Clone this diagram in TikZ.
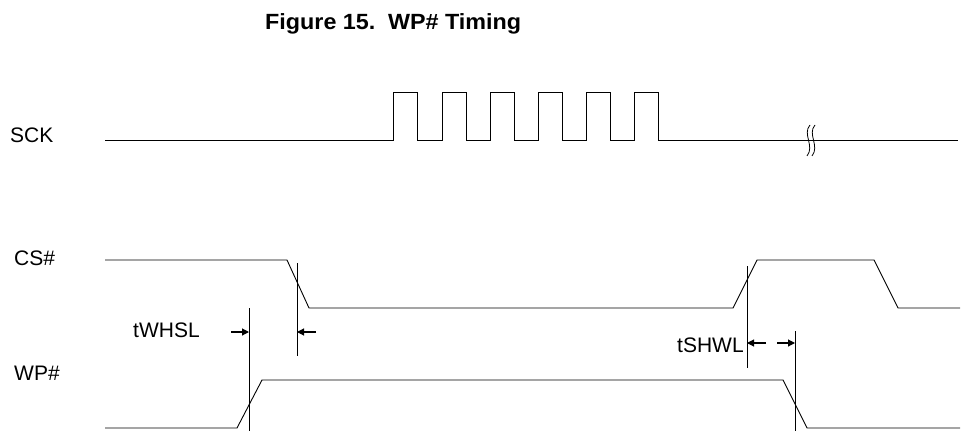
\documentclass[tikz,border=0pt]{standalone}
\usepackage{fontspec}
\setmainfont{Liberation Sans}
\usetikzlibrary{arrows.meta}
\begin{document}
\begin{tikzpicture}[x=1pt,y=-1pt,
  sig/.style={line width=0.9pt, line join=miter},
  mark line/.style={line width=0.9pt},
  dimarrow/.style={line width=1.1pt, -{Triangle[length=7pt,width=7pt]}},
  lbl/.style={anchor=base west, inner sep=0pt, font=\fontsize{21}{24}\selectfont},
  ttl/.style={anchor=base west, inner sep=0pt, font=\fontsize{22}{26}\selectfont\bfseries}]
\useasboundingbox (0,0) rectangle (961,431);

% title
\node[ttl] (title) at (265,29) {\scalebox{1.06}[1]{Figure 15.\hspace{12pt}WP\# Timing}};

% signal labels
\node[lbl] (sck) at (10,142) {SCK};
\node[lbl] (cs) at (14,265) {CS\#};
\node[lbl] (wp) at (14,380) {WP\#};
\node[lbl] (twhsl) at (133,337) {tWHSL};
\node[lbl] (tshwl) at (677,352) {tSHWL};

% SCK
\draw[sig] (105,140) foreach \r/\f in {393/417,442/466,490/514,538/562,586/610,634/658}
  { -- (\r,140) -- (\r,92) -- (\f,92) -- (\f,140) } -- (958,140);
% break mark
\draw[line width=0.8pt] (810,125) .. controls (802,134) and (815,146) .. (807,156);
\draw[line width=0.8pt] (815,125) .. controls (807,134) and (820,146) .. (812,156);

% CS#
\draw[sig] (105,260) -- (287,260) -- (309,308) -- (733,308) -- (757,260) -- (874,260) -- (898,308) -- (960,308);

% WP#
\draw[sig] (105,428) -- (237,428) -- (262,380) -- (783,380) -- (807,428) -- (960,428);

% timing marker lines
\coordinate (a1) at (249,308); \coordinate (a2) at (249,431);
\coordinate (b1) at (297,263); \coordinate (b2) at (297,356);
\coordinate (c1) at (747,266); \coordinate (c2) at (747,368);
\coordinate (d1) at (795,331); \coordinate (d2) at (795,431);
\draw[mark line] (a1) -- (a2);
\draw[mark line] (b1) -- (b2);
\draw[mark line] (c1) -- (c2);
\draw[mark line] (d1) -- (d2);

% dimension arrows
\coordinate (aa) at (231,332); \coordinate (at) at (249,332);
\coordinate (ba) at (316,332); \coordinate (bt) at (297,332);
\coordinate (ca) at (766,343); \coordinate (ct) at (747,343);
\coordinate (da) at (777,343); \coordinate (dt) at (795,343);
\draw[dimarrow] (aa) -- (at);
\draw[dimarrow] (ba) -- (bt);
\draw[dimarrow] (ca) -- (ct);
\draw[dimarrow] (da) -- (dt);
\end{tikzpicture}
\end{document}
